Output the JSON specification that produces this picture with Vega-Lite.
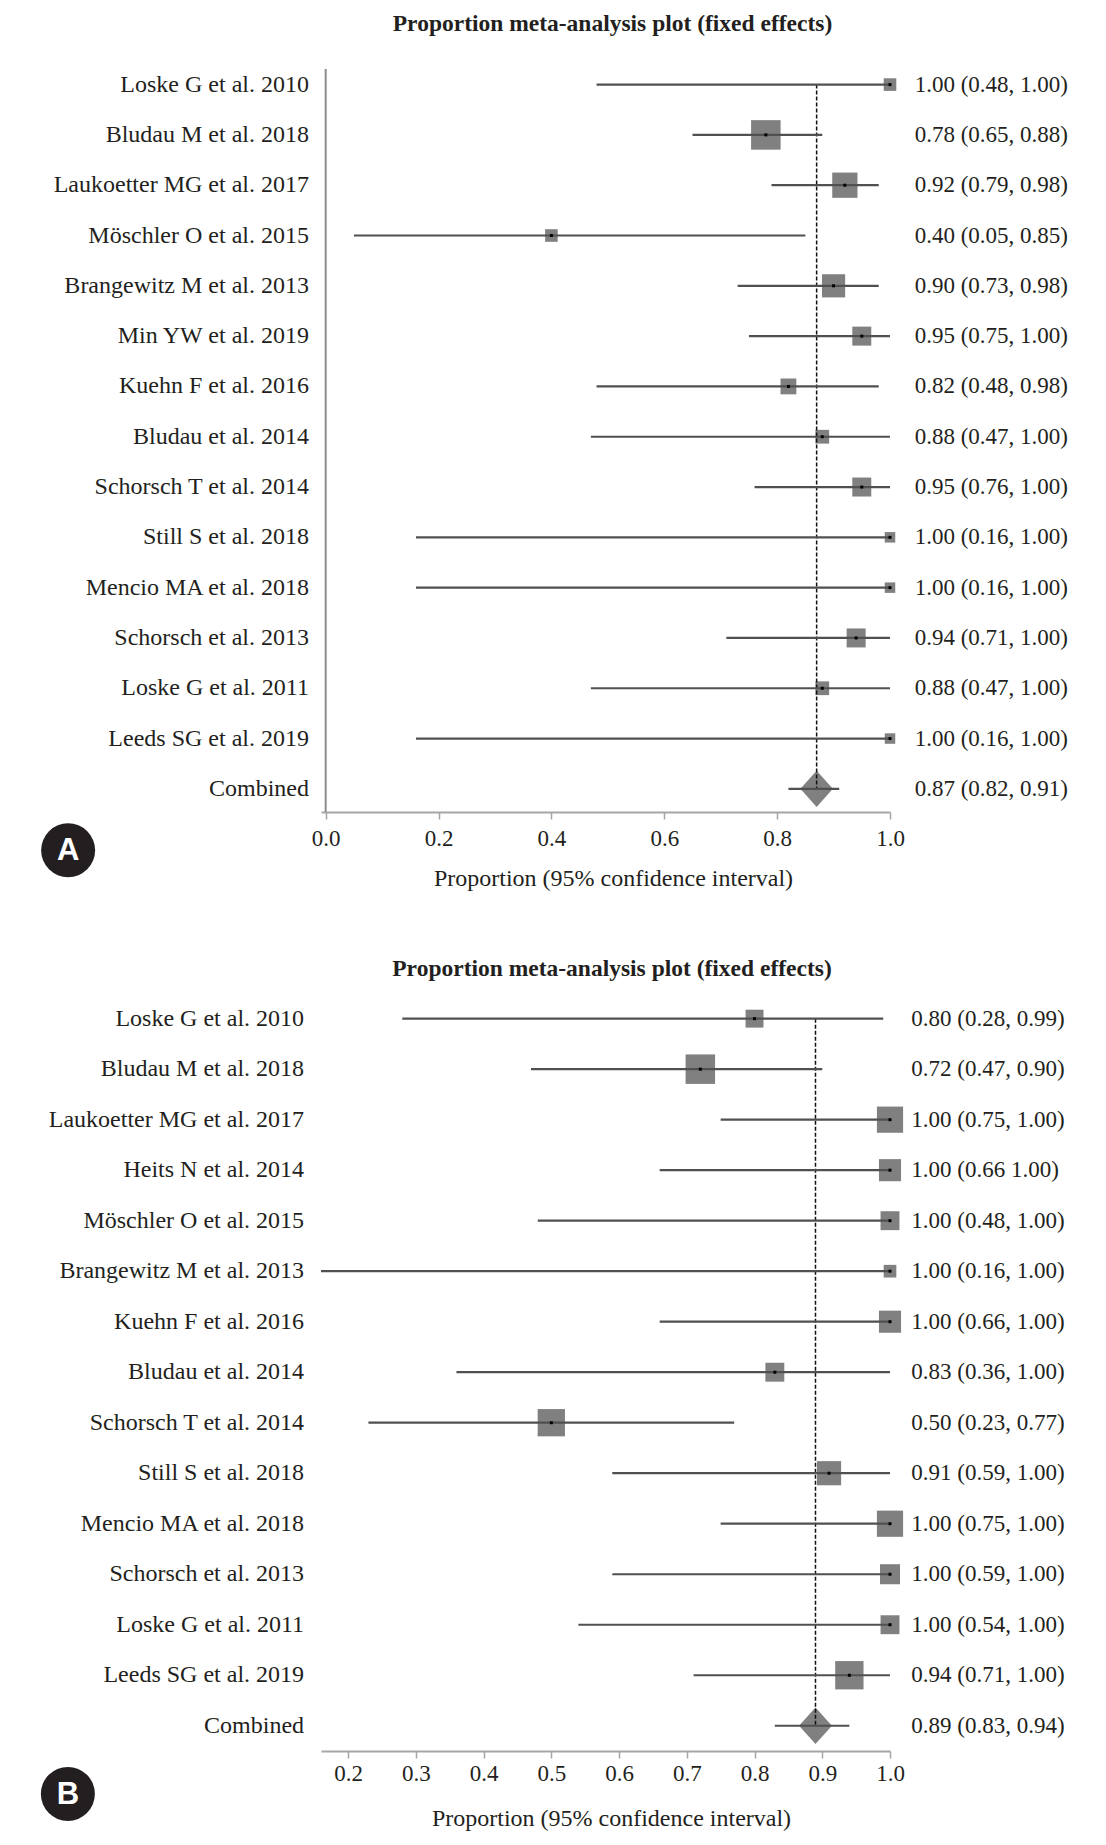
{
  "$schema": "https://vega.github.io/schema/vega-lite/v6.json",
  "background": "white",
  "padding": {"left": 40, "top": 11, "right": 10, "bottom": 5},
  "spacing": 66,
  "config": {
    "view": {"stroke": null},
    "font": "Liberation Serif",
    "text": {"font": "Liberation Serif", "color": "#231f20"},
    "title": {"font": "Liberation Serif", "fontSize": 23.5, "fontWeight": "bold", "color": "#231f20", "frame": "group", "anchor": "middle"},
    "axisX": {"domainColor": "#a6a6a6", "domainWidth": 2, "tickColor": "#a6a6a6", "tickWidth": 1.5, "tickSize": 7, "labelFont": "Liberation Serif", "labelFontSize": 23, "labelColor": "#231f20", "labelPadding": 8, "labelOverlap": false, "labelFlush": false, "grid": false, "titleFont": "Liberation Serif", "titleFontSize": 24, "titleFontWeight": "normal", "titleColor": "#231f20", "titlePadding": 16, "format": ".1f"}
  },
  "resolve": {"scale": {"x": "independent", "y": "independent", "size": "independent"}, "axis": {"x": "independent", "y": "independent"}},
  "vconcat": [
    {
      "width": 569,
      "height": 743,
      "title": {"text": "Proportion meta-analysis plot (fixed effects)", "offset": 33, "dx": 7},
      "data": {"values": [
        {"row": 1, "name": "Loske G et al. 2010", "kind": "study", "est": 1.00, "lo": 0.48, "hi": 1.00, "w": 3.6, "ci": "1.00 (0.48, 1.00)"},
        {"row": 2, "name": "Bludau M et al. 2018", "kind": "study", "est": 0.78, "lo": 0.65, "hi": 0.88, "w": 19.8, "ci": "0.78 (0.65, 0.88)"},
        {"row": 3, "name": "Laukoetter MG et al. 2017", "kind": "study", "est": 0.92, "lo": 0.79, "hi": 0.98, "w": 14.5, "ci": "0.92 (0.79, 0.98)"},
        {"row": 4, "name": "Möschler O et al. 2015", "kind": "study", "est": 0.40, "lo": 0.05, "hi": 0.85, "w": 3.6, "ci": "0.40 (0.05, 0.85)"},
        {"row": 5, "name": "Brangewitz M et al. 2013", "kind": "study", "est": 0.90, "lo": 0.73, "hi": 0.98, "w": 12.2, "ci": "0.90 (0.73, 0.98)"},
        {"row": 6, "name": "Min YW et al. 2019", "kind": "study", "est": 0.95, "lo": 0.75, "hi": 1.00, "w": 8.2, "ci": "0.95 (0.75, 1.00)"},
        {"row": 7, "name": "Kuehn F et al. 2016", "kind": "study", "est": 0.82, "lo": 0.48, "hi": 0.98, "w": 5.7, "ci": "0.82 (0.48, 0.98)"},
        {"row": 8, "name": "Bludau et al. 2014", "kind": "study", "est": 0.88, "lo": 0.47, "hi": 1.00, "w": 4.3, "ci": "0.88 (0.47, 1.00)"},
        {"row": 9, "name": "Schorsch T et al. 2014", "kind": "study", "est": 0.95, "lo": 0.76, "hi": 1.00, "w": 8.2, "ci": "0.95 (0.76, 1.00)"},
        {"row": 10, "name": "Still S et al. 2018", "kind": "study", "est": 1.00, "lo": 0.16, "hi": 1.00, "w": 2.5, "ci": "1.00 (0.16, 1.00)"},
        {"row": 11, "name": "Mencio MA et al. 2018", "kind": "study", "est": 1.00, "lo": 0.16, "hi": 1.00, "w": 2.5, "ci": "1.00 (0.16, 1.00)"},
        {"row": 12, "name": "Schorsch et al. 2013", "kind": "study", "est": 0.94, "lo": 0.71, "hi": 1.00, "w": 8.2, "ci": "0.94 (0.71, 1.00)"},
        {"row": 13, "name": "Loske G et al. 2011", "kind": "study", "est": 0.88, "lo": 0.47, "hi": 1.00, "w": 4.3, "ci": "0.88 (0.47, 1.00)"},
        {"row": 14, "name": "Leeds SG et al. 2019", "kind": "study", "est": 1.00, "lo": 0.16, "hi": 1.00, "w": 2.5, "ci": "1.00 (0.16, 1.00)"},
        {"row": 15, "name": "Combined", "kind": "combined", "est": 0.87, "lo": 0.82, "hi": 0.91, "w": 0, "ci": "0.87 (0.82, 0.91)"}
      ]},
      "encoding": {
        "y": {"field": "row", "type": "quantitative", "scale": {"domain": [0.69, 15.46], "reverse": true, "nice": false, "zero": false}, "axis": null}
      },
      "layer": [
        {
          "transform": [{"filter": "datum.kind === 'study'"}],
          "mark": {"type": "point", "shape": "square", "filled": true, "color": "#808080", "opacity": 1},
          "encoding": {
            "x": {"field": "est", "type": "quantitative", "title": "Proportion (95% confidence interval)", "scale": {"domain": [-0.0083, 1], "nice": false, "zero": false}, "axis": {"values": [0, 0.2, 0.4, 0.6, 0.8, 1.0], "titleX": 292}},
            "size": {"field": "w", "type": "quantitative", "scale": {"type": "linear", "domain": [0, 100], "range": [0, 4400]}, "legend": null}
          }
        },
        {
          "transform": [{"filter": "datum.kind === 'combined'"}],
          "mark": {"type": "rule", "color": "#8c8c8c", "strokeWidth": 2},
          "encoding": {"x": {"datum": 0, "type": "quantitative"}, "y": {"datum": 0.69, "type": "quantitative"}, "y2": {"datum": 15.46}}
        },
        {
          "transform": [{"filter": "datum.kind === 'combined'"}],
          "mark": {"type": "point", "shape": "M0,-1L0.9,0L0,1L-0.9,0Z", "filled": true, "color": "#808080", "opacity": 1, "size": 1300},
          "encoding": {"x": {"field": "est", "type": "quantitative", "title": "Proportion (95% confidence interval)"}}
        },
        {
          "transform": [{"filter": "datum.kind === 'combined'"}],
          "mark": {"type": "rule", "color": "#111", "strokeWidth": 1.5, "strokeDash": [4, 2]},
          "encoding": {"x": {"field": "est", "type": "quantitative", "title": "Proportion (95% confidence interval)"}, "y": {"datum": 1, "type": "quantitative"}, "y2": {"field": "row"}}
        },
        {
          "mark": {"type": "rule", "color": "#505050", "strokeWidth": 2.2},
          "encoding": {"x": {"field": "lo", "type": "quantitative", "title": "Proportion (95% confidence interval)"}, "x2": {"field": "hi"}}
        },
        {
          "transform": [{"filter": "datum.kind === 'study'"}],
          "mark": {"type": "point", "shape": "square", "filled": true, "color": "#000", "opacity": 1, "size": 9},
          "encoding": {"x": {"field": "est", "type": "quantitative", "title": "Proportion (95% confidence interval)"}}
        },
        {
          "mark": {"type": "text", "align": "right", "baseline": "middle", "fontSize": 24},
          "encoding": {"x": {"datum": -0.0296, "type": "quantitative"}, "text": {"field": "name"}}
        },
        {
          "mark": {"type": "text", "align": "left", "baseline": "middle", "fontSize": 23},
          "encoding": {"x": {"datum": 1.0437, "type": "quantitative"}, "text": {"field": "ci"}}
        },
        {
          "transform": [{"filter": "datum.kind === 'combined'"}],
          "mark": {"type": "point", "shape": "circle", "filled": true, "color": "#231f20", "opacity": 1, "size": 2916},
          "encoding": {"x": {"datum": -0.4564, "type": "quantitative"}, "y": {"datum": 16.22, "type": "quantitative"}}
        },
        {
          "transform": [{"filter": "datum.kind === 'combined'"}],
          "mark": {"type": "text", "align": "center", "baseline": "middle", "font": "Liberation Sans", "fontWeight": "bold", "fontSize": 31, "color": "white", "text": "A", "dy": 1},
          "encoding": {"x": {"datum": -0.4564, "type": "quantitative"}, "y": {"datum": 16.22, "type": "quantitative"}}
        }
      ]
    },
    {
      "width": 569,
      "height": 748,
      "title": {"text": "Proportion meta-analysis plot (fixed effects)", "offset": 23, "dx": 6.5},
      "data": {"values": [
        {"row": 1, "name": "Loske G et al. 2010", "kind": "study", "est": 0.80, "lo": 0.28, "hi": 0.99, "w": 4.4, "ci": "0.80 (0.28, 0.99)"},
        {"row": 2, "name": "Bludau M et al. 2018", "kind": "study", "est": 0.72, "lo": 0.47, "hi": 0.90, "w": 11.9, "ci": "0.72 (0.47, 0.90)"},
        {"row": 3, "name": "Laukoetter MG et al. 2017", "kind": "study", "est": 1.00, "lo": 0.75, "hi": 1.00, "w": 9.4, "ci": "1.00 (0.75, 1.00)"},
        {"row": 4, "name": "Heits N et al. 2014", "kind": "study", "est": 1.00, "lo": 0.66, "hi": 1.00, "w": 6.7, "ci": "1.00 (0.66 1.00)"},
        {"row": 5, "name": "Möschler O et al. 2015", "kind": "study", "est": 1.00, "lo": 0.48, "hi": 1.00, "w": 4.9, "ci": "1.00 (0.48, 1.00)"},
        {"row": 6, "name": "Brangewitz M et al. 2013", "kind": "study", "est": 1.00, "lo": 0.16, "hi": 1.00, "w": 2.2, "ci": "1.00 (0.16, 1.00)"},
        {"row": 7, "name": "Kuehn F et al. 2016", "kind": "study", "est": 1.00, "lo": 0.66, "hi": 1.00, "w": 6.7, "ci": "1.00 (0.66, 1.00)"},
        {"row": 8, "name": "Bludau et al. 2014", "kind": "study", "est": 0.83, "lo": 0.36, "hi": 1.00, "w": 4.9, "ci": "0.83 (0.36, 1.00)"},
        {"row": 9, "name": "Schorsch T et al. 2014", "kind": "study", "est": 0.50, "lo": 0.23, "hi": 0.77, "w": 10.2, "ci": "0.50 (0.23, 0.77)"},
        {"row": 10, "name": "Still S et al. 2018", "kind": "study", "est": 0.91, "lo": 0.59, "hi": 1.00, "w": 8.0, "ci": "0.91 (0.59, 1.00)"},
        {"row": 11, "name": "Mencio MA et al. 2018", "kind": "study", "est": 1.00, "lo": 0.75, "hi": 1.00, "w": 9.4, "ci": "1.00 (0.75, 1.00)"},
        {"row": 12, "name": "Schorsch et al. 2013", "kind": "study", "est": 1.00, "lo": 0.59, "hi": 1.00, "w": 5.5, "ci": "1.00 (0.59, 1.00)"},
        {"row": 13, "name": "Loske G et al. 2011", "kind": "study", "est": 1.00, "lo": 0.54, "hi": 1.00, "w": 4.9, "ci": "1.00 (0.54, 1.00)"},
        {"row": 14, "name": "Leeds SG et al. 2019", "kind": "study", "est": 0.94, "lo": 0.71, "hi": 1.00, "w": 11.0, "ci": "0.94 (0.71, 1.00)"},
        {"row": 15, "name": "Combined", "kind": "combined", "est": 0.89, "lo": 0.83, "hi": 0.94, "w": 0, "ci": "0.89 (0.83, 0.94)"}
      ]},
      "encoding": {
        "y": {"field": "row", "type": "quantitative", "scale": {"domain": [0.69, 15.5], "reverse": true, "nice": false, "zero": false}, "axis": null}
      },
      "layer": [
        {
          "transform": [{"filter": "datum.kind === 'study'"}],
          "mark": {"type": "point", "shape": "square", "filled": true, "color": "#808080", "opacity": 1},
          "encoding": {
            "x": {"field": "est", "type": "quantitative", "title": "Proportion (95% confidence interval)", "scale": {"domain": [0.16, 1], "nice": false, "zero": false}, "axis": {"values": [0.2, 0.3, 0.4, 0.5, 0.6, 0.7, 0.8, 0.9, 1.0], "titleX": 290, "labelPadding": 4, "titlePadding": 21}},
            "size": {"field": "w", "type": "quantitative", "scale": {"type": "linear", "domain": [0, 100], "range": [0, 7300]}, "legend": null}
          }
        },
        {
          "transform": [{"filter": "datum.kind === 'combined'"}],
          "mark": {"type": "point", "shape": "M0,-1L0.9,0L0,1L-0.9,0Z", "filled": true, "color": "#808080", "opacity": 1, "size": 1330},
          "encoding": {"x": {"field": "est", "type": "quantitative", "title": "Proportion (95% confidence interval)"}}
        },
        {
          "transform": [{"filter": "datum.kind === 'combined'"}],
          "mark": {"type": "rule", "color": "#111", "strokeWidth": 1.5, "strokeDash": [4, 2]},
          "encoding": {"x": {"field": "est", "type": "quantitative", "title": "Proportion (95% confidence interval)"}, "y": {"datum": 1, "type": "quantitative"}, "y2": {"field": "row"}}
        },
        {
          "mark": {"type": "rule", "color": "#505050", "strokeWidth": 2.2},
          "encoding": {"x": {"field": "lo", "type": "quantitative", "title": "Proportion (95% confidence interval)"}, "x2": {"field": "hi"}}
        },
        {
          "transform": [{"filter": "datum.kind === 'study'"}],
          "mark": {"type": "point", "shape": "square", "filled": true, "color": "#000", "opacity": 1, "size": 9},
          "encoding": {"x": {"field": "est", "type": "quantitative", "title": "Proportion (95% confidence interval)"}}
        },
        {
          "mark": {"type": "text", "align": "right", "baseline": "middle", "fontSize": 24},
          "encoding": {"x": {"datum": 0.135, "type": "quantitative"}, "text": {"field": "name"}}
        },
        {
          "mark": {"type": "text", "align": "left", "baseline": "middle", "fontSize": 23},
          "encoding": {"x": {"datum": 1.0315, "type": "quantitative"}, "text": {"field": "ci"}}
        },
        {
          "transform": [{"filter": "datum.kind === 'combined'"}],
          "mark": {"type": "point", "shape": "circle", "filled": true, "color": "#231f20", "opacity": 1, "size": 2916},
          "encoding": {"x": {"datum": -0.2137, "type": "quantitative"}, "y": {"datum": 16.35, "type": "quantitative"}}
        },
        {
          "transform": [{"filter": "datum.kind === 'combined'"}],
          "mark": {"type": "text", "align": "center", "baseline": "middle", "font": "Liberation Sans", "fontWeight": "bold", "fontSize": 31, "color": "white", "text": "B", "dy": 1},
          "encoding": {"x": {"datum": -0.2137, "type": "quantitative"}, "y": {"datum": 16.35, "type": "quantitative"}}
        }
      ]
    }
  ]
}
